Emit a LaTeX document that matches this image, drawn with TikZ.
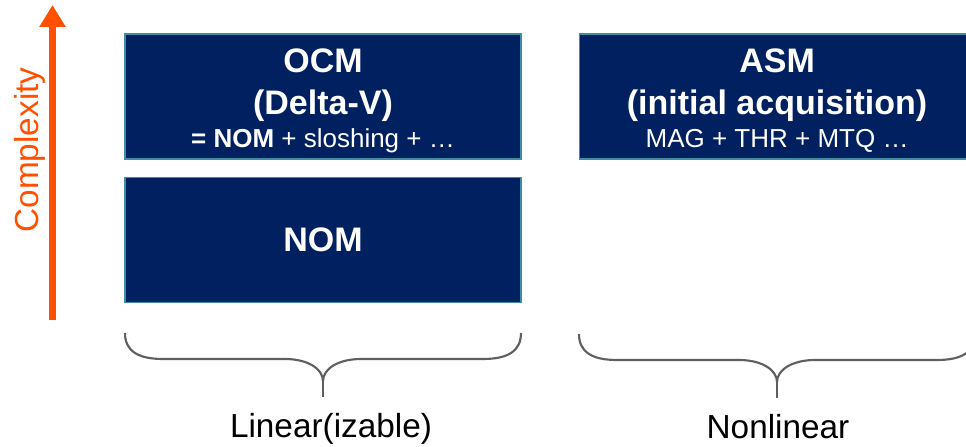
\documentclass[tikz,border=0pt]{standalone}
\usepackage{fontspec}
\setmainfont{Liberation Sans}
\usetikzlibrary{arrows.meta,positioning}
\usepackage{xcolor}
\definecolor{navy}{HTML}{002060}
\definecolor{frame}{HTML}{3E8DA6}
\definecolor{orange}{HTML}{FF5000}
\definecolor{bracegray}{HTML}{5F5F5F}

% smaller line under a model title
\newcommand{\sublabel}{\fontsize{19.5}{24}\selectfont\mdseries}

\tikzset{
  groupbrace/.pic={
    \draw[bracegray, line width=1.6pt]
      (-198,0) .. controls (-198,-18) and (-185,-26) .. (-160,-26) -- (-38,-26)
      .. controls (-15,-26) and (0,-36) .. (0,-48)
      .. controls (0,-36) and (15,-26) .. (38,-26) -- (160,-26)
      .. controls (185,-26) and (198,-18) .. (198,0);
    \draw[bracegray, line width=1.6pt] (0,-48) -- (0,-64);
  }
}

\begin{document}
\begin{tikzpicture}[x=0.75pt, y=0.75pt,
      model/.style={
        draw=frame, line width=0.8pt, fill=navy, text=white, align=center,
        font=\fontsize{25.5}{31.5}\selectfont\bfseries,
        minimum width=297pt, minimum height=93.75pt, inner sep=0pt
      },
      axis/.style={-{Triangle[length=16.5pt, width=18.75pt]}, line width=5.6pt, draw=orange},
      group/.style={font=\fontsize{25}{30}\selectfont, anchor=base},
      node distance=12.75pt and 42.75pt
    ]
    \useasboundingbox (0,0) rectangle (966,446);

    \node[model] (ocm) at (323,349.5) {
      \rule{0pt}{24pt}OCM\\
      (Delta-V)\\[-6.75pt]
      {\sublabel \textbf{= NOM} + sloshing + …}
    };
    \node[model, below=of ocm] (nom) {NOM};
    \node[model, right=of ocm] (asm) {
      \rule{0pt}{24pt}ASM\\
      (initial acquisition)\\[-6.75pt]
      {\sublabel MAG + THR + MTQ …}
    };

    % complexity axis
    \coordinate (low) at (52.5,126);
    \coordinate (high) at (52.5,441);
    \draw[axis] (low) -- (high);
    \node[rotate=90, anchor=base, text=orange, font=\fontsize{25}{30}\selectfont]
      (complexity) at (38,296) {Complexity};

    % groups
    \pic (linbrace) at (323,113) {groupbrace};
    \pic (nonlinbrace) at (777,112) {groupbrace};
    \node[group] (linear) at (331,9) {Linear(izable)};
    \node[group] (nonlinear) at (778,8) {Nonlinear};
  \end{tikzpicture}
\end{document}
